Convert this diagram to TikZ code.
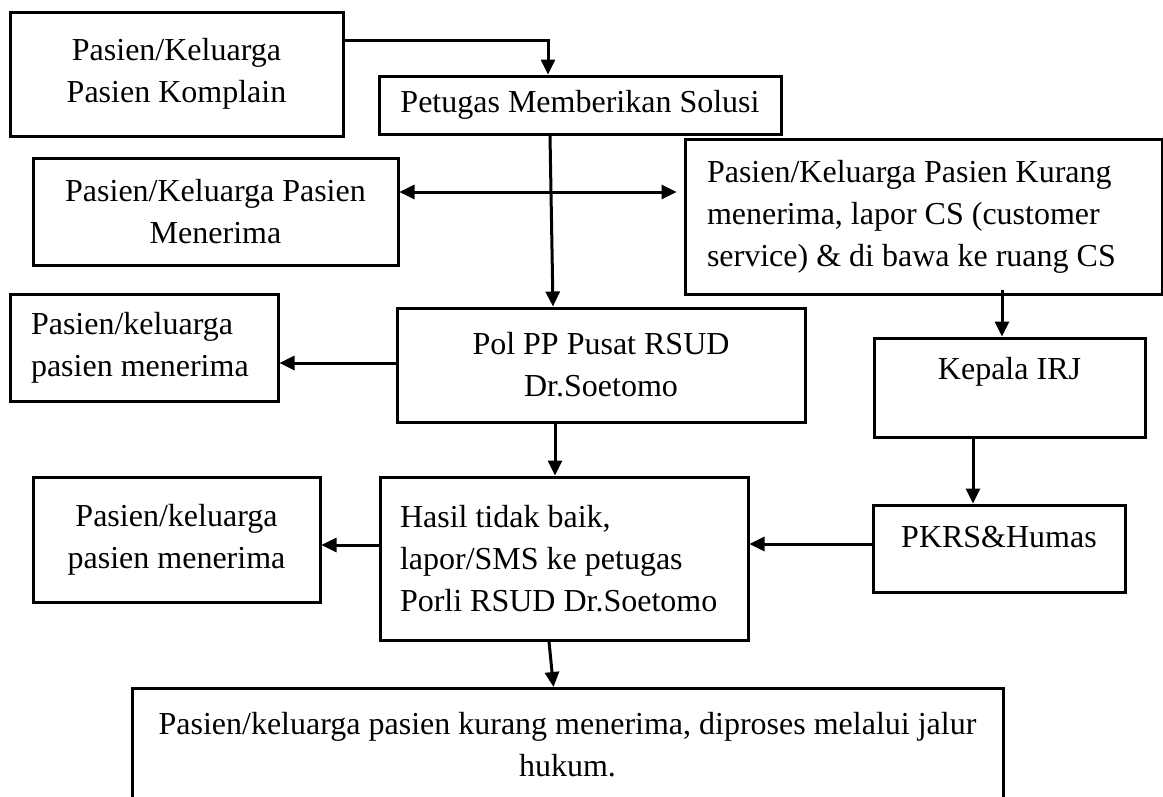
\documentclass[tikz,border=0pt]{standalone}
\usepackage{fontspec}
\setmainfont{Liberation Serif}
\usetikzlibrary{arrows.meta}
\begin{document}
\begin{tikzpicture}[x=1pt,y=-1pt,
  box/.style={draw, line width=3pt, inner sep=0pt, font=\fontsize{32}{42}\selectfont},
  arr/.style={line width=3pt, -{Triangle[length=15pt,width=14pt]}},
  darr/.style={line width=3pt, {Triangle[length=15pt,width=14pt]}-{Triangle[length=15pt,width=14pt]}}]
\useasboundingbox (0,0) rectangle (1163,796);
\fill[white] (0,0) rectangle (1163,796);

\node[box, align=center, minimum width=333pt, minimum height=124pt] (A) at (176.5,74)
  {Pasien/Keluarga\\Pasien Komplain};
\node[box, minimum width=402pt, minimum height=58pt] (B) at (580,105)
  {Petugas Memberikan Solusi};
\node[box, align=center, minimum width=365pt, minimum height=107pt] (C) at (215.5,211.5)
  {Pasien/Keluarga Pasien\\Menerima};
\node[box, align=flush left, text width=433pt, minimum width=477pt, minimum height=155pt] (D) at (923.5,216.5)
  {Pasien/Keluarga Pasien Kurang\\menerima, lapor CS (customer\\service) \& di bawa ke ruang CS};
\node[box, align=flush left, text width=226pt, minimum width=268pt, minimum height=107pt] (E) at (144,347.5)
  {Pasien/keluarga\\pasien menerima};
\node[box, align=center, minimum width=408pt, minimum height=114pt] (P) at (601,365)
  {Pol PP Pusat RSUD\\Dr.Soetomo};
\node[box, minimum width=271pt, text height=41pt, text depth=58pt] (K) at (1009.5,387.5)
  {Kepala IRJ};
\node[box, minimum width=252pt, text height=42pt, text depth=45pt] (G) at (999,548.5)
  {PKRS\&Humas};
\node[box, align=flush left, text width=328pt, minimum width=368pt, minimum height=163pt] (H) at (564,558.5)
  {Hasil tidak baik,\\lapor/SMS ke petugas\\Porli RSUD Dr.Soetomo};
\node[box, align=center, minimum width=287pt, minimum height=125pt] (I) at (176.5,539.5)
  {Pasien/keluarga\\pasien menerima};
\node[box, align=center, minimum width=871pt, minimum height=112pt] (J) at (567.5,744.5)
  {Pasien/keluarga pasien kurang menerima, diproses melalui jalur\\hukum.};

\draw[arr] ([yshift=34pt]A.east) -| ([xshift=-32pt]B.north);
\draw[arr] ([xshift=-30pt]B.south) -- ([xshift=-48pt]P.north);
\draw[darr, shorten >=7pt] ([yshift=19.5pt]C.east) -- ([yshift=24.5pt]D.west);
\draw[arr] ([xshift=78.5pt,yshift=6pt]D.south) -- ([xshift=-7.5pt]K.north);
\draw[arr] ([yshift=2pt]P.west) -- ([yshift=2pt]P.west -| E.east);
\draw[arr] ([xshift=-46pt]P.south) -- ([xshift=-46pt]P.south |- H.north);
\draw[arr] ([xshift=-36.5pt]K.south) -- ([xshift=-36.5pt]K.south |- G.north);
\draw[arr] ([yshift=4.5pt]G.west) -- ([yshift=4.5pt]G.west -| H.east);
\draw[arr] ([yshift=13.5pt]H.west) -- ([yshift=13.5pt]H.west -| I.east);
\draw[arr] ([xshift=-15pt]H.south) -- ([xshift=-14pt]J.north);
\end{tikzpicture}
\end{document}
